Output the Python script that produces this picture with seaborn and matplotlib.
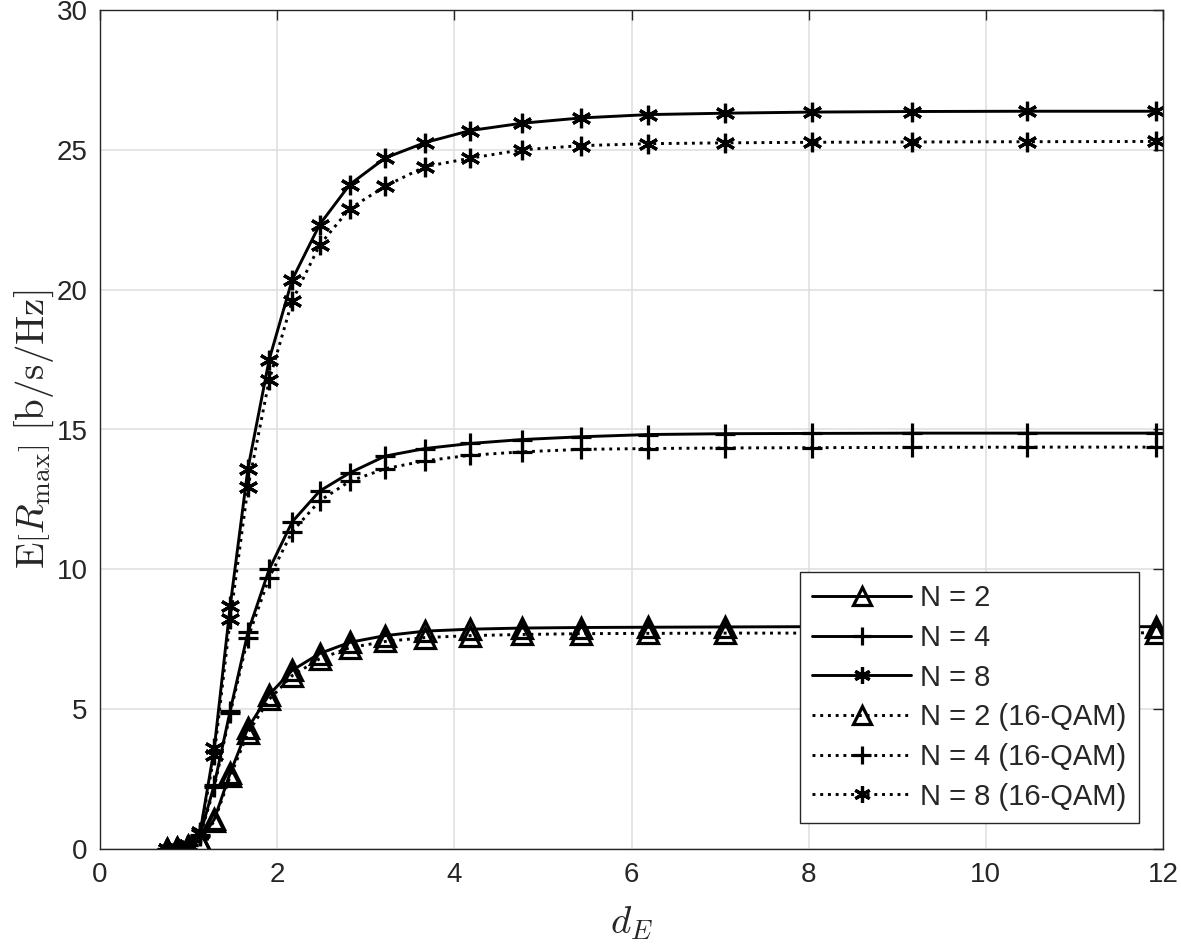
import matplotlib
matplotlib.use("Agg")
import matplotlib.pyplot as plt
import seaborn as sns
import pandas as pd

# ---- data ----
d_E = [0.76, 0.87, 0.99, 1.13, 1.29, 1.47, 1.67, 1.91, 2.17, 2.48, 2.82,
       3.22, 3.67, 4.18, 4.76, 5.43, 6.19, 7.06, 8.04, 9.17, 10.46, 11.92]

n2 = [0.0, 0.03, 0.1, 0.3, 1.06, 2.72, 4.33, 5.52, 6.39, 6.99, 7.39,
      7.63, 7.79, 7.86, 7.90, 7.92, 7.93, 7.94, 7.95, 7.95, 7.95, 7.95]
n4 = [0.0, 0.03, 0.15, 0.5, 2.3, 4.95, 7.75, 10.0, 11.7, 12.8, 13.45,
      14.05, 14.32, 14.50, 14.64, 14.74, 14.82, 14.85, 14.86, 14.87, 14.87, 14.87]
n8 = [0.0, 0.03, 0.15, 0.6, 3.6, 8.7, 13.6, 17.5, 20.36, 22.33, 23.76,
      24.71, 25.26, 25.69, 25.95, 26.14, 26.26, 26.31, 26.35, 26.37, 26.38, 26.38]
n2_qam = [0.0, 0.03, 0.1, 0.28, 1.0, 2.6, 4.15, 5.35, 6.2, 6.8, 7.2,
          7.42, 7.56, 7.63, 7.67, 7.70, 7.71, 7.72, 7.72, 7.73, 7.73, 7.73]
n4_qam = [0.0, 0.03, 0.15, 0.45, 2.2, 4.85, 7.55, 9.7, 11.35, 12.45, 13.15,
          13.6, 13.88, 14.08, 14.20, 14.29, 14.32, 14.34, 14.35, 14.36, 14.37, 14.37]
n8_qam = [0.0, 0.03, 0.15, 0.55, 3.37, 8.21, 12.93, 16.76, 19.6, 21.6, 22.9,
          23.7, 24.4, 24.7, 25.0, 25.15, 25.22, 25.25, 25.27, 25.28, 25.29, 25.30]

labels = ["N = 2", "N = 4", "N = 8",
          "N = 2 (16-QAM)", "N = 4 (16-QAM)", "N = 8 (16-QAM)"]
series = [n2, n4, n8, n2_qam, n4_qam, n8_qam]

x_ticks = [0, 2, 4, 6, 8, 10, 12]
y_ticks = [0, 5, 10, 15, 20, 25, 30]

# ---- styling ----
sns.set_theme(style="white")
plt.rcParams["font.family"] = ["Liberation Sans", "DejaVu Sans"]
plt.rcParams["mathtext.fontset"] = "cm"

markers = ["^", "+", (6, 2, 0), "^", "+", (6, 2, 0)]
styles = ["-", "-", "-", ":", ":", ":"]
msizes = [15, 15, 14, 15, 15, 14]

fig = plt.figure(figsize=(11.81, 9.46), dpi=100)
ax = fig.add_axes([100 / 1181, 97 / 946, 1063 / 1181, 839 / 946])

for lab, ys, mk, ls, ms in zip(labels, series, markers, styles, msizes):
    df = pd.DataFrame({"x": d_E, "y": ys})
    sns.lineplot(data=df, x="x", y="y", ax=ax, color="black", linestyle=ls,
                 linewidth=2.1, marker=mk, markersize=ms, markerfacecolor="none",
                 markeredgecolor="black", markeredgewidth=2.3, label=lab,
                 sort=False, estimator=None)

ax.set_xlim(0, 12)
ax.set_ylim(0, 30)
ax.set_xticks(x_ticks)
ax.set_yticks(y_ticks)
ax.set_xticklabels([str(t) for t in x_ticks])
ax.set_yticklabels([str(t) for t in y_ticks])

ax.grid(True, color="#e0e0e0", linewidth=1.2)
ax.set_axisbelow(True)
for sp in ax.spines.values():
    sp.set_visible(True)
    sp.set_color("#262626")
    sp.set_linewidth(1.0)
ax.tick_params(axis="both", which="both", direction="in", length=7,
               width=1.0, color="#262626", labelsize=20, labelcolor="#262626",
               top=True, right=True, pad=9)

ax.set_xlabel(r"$d_E$", fontsize=28, labelpad=12)
ax.set_ylabel(r"$\mathrm{E}\left[R_{\max}\right]\ [\mathrm{b/s/Hz}]$", fontsize=28,
              labelpad=0)

leg = ax.legend(loc="upper left", bbox_to_anchor=(800 / 1181, (946 - 572) / 946),
                bbox_transform=fig.transFigure, frameon=True, fancybox=False,
                edgecolor="#262626", framealpha=1, fontsize=21, handlelength=3.4,
                borderpad=0.42, labelspacing=0.4, handletextpad=0.3,
                borderaxespad=0, markerscale=0.85)
leg.get_frame().set_linewidth(1.0)

fig.savefig("out.png", dpi=100, facecolor="white")
